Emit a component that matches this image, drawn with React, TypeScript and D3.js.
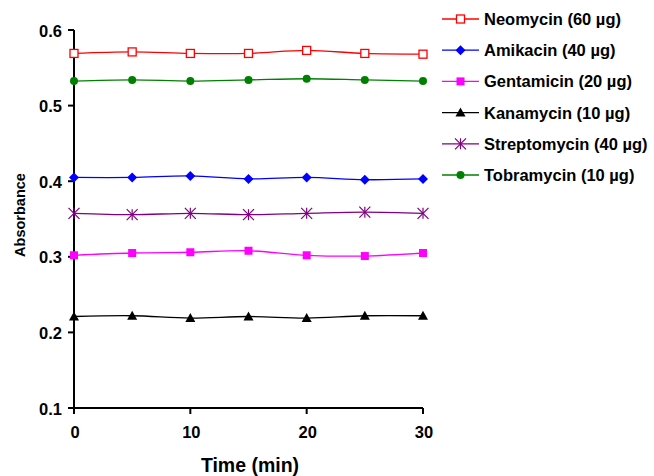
import * as d3 from "d3";

const TIMES = [0, 5, 10, 15, 20, 25, 30];

const NAMES = [
  "Neomycin (60 µg)",
  "Amikacin (40 µg)",
  "Gentamicin (20 µg)",
  "Kanamycin (10 µg)",
  "Streptomycin (40 µg)",
  "Tobramycin (10 µg)",
];

const NEOMYCIN = [0.569, 0.571, 0.569, 0.569, 0.573, 0.569, 0.568];
const AMIKACIN = [0.405, 0.405, 0.407, 0.403, 0.405, 0.402, 0.403];
const GENTAMICIN = [0.302, 0.305, 0.306, 0.308, 0.302, 0.301, 0.305];
const KANAMYCIN = [0.221, 0.222, 0.219, 0.221, 0.219, 0.222, 0.222];
const STREPTOMYCIN = [0.3575, 0.3557, 0.3575, 0.3557, 0.3575, 0.359, 0.3575];
const TOBRAMYCIN = [0.5325, 0.534, 0.5325, 0.534, 0.5355, 0.534, 0.5325];

const X_TICKS = [0, 10, 20, 30];
const Y_TICKS = [0.1, 0.2, 0.3, 0.4, 0.5, 0.6];

const series = [
  { name: NAMES[0], values: NEOMYCIN, color: "#ff0000", marker: "squareOpen" },
  { name: NAMES[1], values: AMIKACIN, color: "#0000ff", marker: "diamond" },
  { name: NAMES[2], values: GENTAMICIN, color: "#ff00ff", marker: "square" },
  { name: NAMES[3], values: KANAMYCIN, color: "#000000", marker: "triangle" },
  { name: NAMES[4], values: STREPTOMYCIN, color: "#800080", marker: "star" },
  { name: NAMES[5], values: TOBRAMYCIN, color: "#008000", marker: "circle" },
];

const FONT = "'Liberation Sans', Arial, sans-serif";

function Marker({ type, x, y, color }: { type: string; x: number; y: number; color: string }) {
  if (type === "squareOpen")
    return <rect x={x - 4} y={y - 4} width={8} height={8} fill="#fff" stroke={color} strokeWidth={1.3} />;
  if (type === "square")
    return <rect x={x - 4} y={y - 4} width={8} height={8} fill={color} />;
  if (type === "diamond")
    return <path d={`M${x},${y - 5}L${x + 5},${y}L${x},${y + 5}L${x - 5},${y}Z`} fill={color} />;
  if (type === "triangle")
    return <path d={`M${x},${y - 5}L${x + 5},${y + 4}L${x - 5},${y + 4}Z`} fill={color} />;
  if (type === "circle") return <circle cx={x} cy={y} r={4} fill={color} />;
  // asterisk
  const r = 5.5;
  return (
    <g stroke={color} strokeWidth={1.2}>
      <line x1={x - r} y1={y - r} x2={x + r} y2={y + r} />
      <line x1={x - r} y1={y + r} x2={x + r} y2={y - r} />
      <line x1={x} y1={y - r} x2={x} y2={y + r} />
    </g>
  );
}

export default function App() {
  const x = d3.scaleLinear().domain([0, 30]).range([74, 423]);
  const y = d3.scaleLinear().domain([0.1, 0.6]).range([408, 30]);

  const line = d3
    .line<number>()
    .x((_, i) => x(TIMES[i]))
    .y((d) => y(d))
    .curve(d3.curveCatmullRom);

  const legend = { x1: 442, x2: 479, textX: 484, y0: 19, step: 31.2 };

  return (
    <svg width={654} height={476} style={{ position: "absolute", left: 0, top: 0 }} fontFamily={FONT}>
      <rect width={654} height={476} fill="#fff" />

      {/* axes */}
      <line x1={74} x2={74} y1={y(0.6)} y2={y(0.1)} stroke="#000" strokeWidth={2} />
      <line x1={74} x2={423} y1={y(0.1)} y2={y(0.1)} stroke="#000" strokeWidth={2} />

      {Y_TICKS.map((t) => (
        <g key={t}>
          <line x1={68} x2={74} y1={y(t)} y2={y(t)} stroke="#000" strokeWidth={2} />
          <text x={62} y={y(t) + 6.5} textAnchor="end" fontSize={16.5} fontWeight="bold">
            {t.toFixed(1)}
          </text>
        </g>
      ))}

      {X_TICKS.map((t) => (
        <g key={t}>
          <line x1={x(t)} x2={x(t)} y1={y(0.1)} y2={y(0.1) + 6} stroke="#000" strokeWidth={2} />
          <text x={x(t) + 1} y={438} textAnchor="middle" fontSize={16.5} fontWeight="bold">
            {t}
          </text>
        </g>
      ))}

      <text x={250} y={472} textAnchor="middle" fontSize={19.5} fontWeight="bold">
        Time (min)
      </text>
      <text
        transform={`translate(24.5,${215}) rotate(-90)`}
        textAnchor="middle"
        fontSize={14.5}
        fontWeight="bold"
      >
        Absorbance
      </text>

      {/* series */}
      {series.map((s) => (
        <g key={s.name}>
          <path d={line(s.values) ?? ""} fill="none" stroke={s.color} strokeWidth={1.3} />
          {s.values.map((v, i) => (
            <Marker key={i} type={s.marker} x={x(TIMES[i])} y={y(v)} color={s.color} />
          ))}
        </g>
      ))}

      {/* legend */}
      {series.map((s, i) => {
        const ly = legend.y0 + i * legend.step;
        return (
          <g key={s.name}>
            <line x1={legend.x1} x2={legend.x2} y1={ly} y2={ly} stroke={s.color} strokeWidth={1.3} />
            <Marker type={s.marker} x={(legend.x1 + legend.x2) / 2} y={ly} color={s.color} />
            <text x={legend.textX} y={ly + 6} fontSize={16.5} fontWeight="bold">
              {s.name}
            </text>
          </g>
        );
      })}
    </svg>
  );
}
